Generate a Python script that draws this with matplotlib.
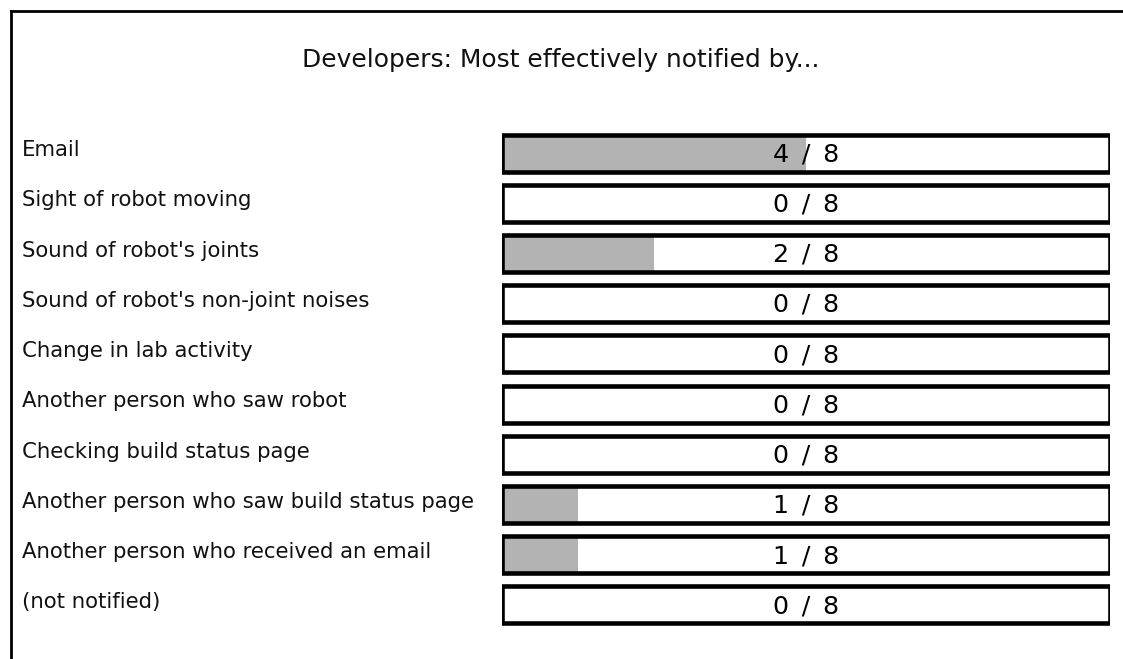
import matplotlib
matplotlib.use('Agg')
import matplotlib.pyplot as plt
import matplotlib.transforms as mtransforms
from matplotlib.lines import Line2D

# survey answers
categories = ["Email",
              "Sight of robot moving",
              "Sound of robot's joints",
              "Sound of robot's non-joint noises",
              "Change in lab activity",
              "Another person who saw robot",
              "Checking build status page",
              "Another person who saw build status page",
              "Another person who received an email",
              "(not notified)"]
counts = [4, 0, 2, 0, 0, 0, 0, 1, 1, 0]
total = 8
title = "Developers: Most effectively notified by..."

plt.rcParams['font.family'] = ['DejaVu Sans']

fig = plt.figure(figsize=(11.23, 6.59), dpi=100)
ax = fig.add_axes([502/1123, 1 - 630.1/659, 608/1123, 502.2/659])

y = list(range(len(categories)))
# grey fill, then the black outline on top
ax.barh(y, counts, height=0.737, left=0, color='#b3b3b3', linewidth=0)
ax.barh(y, [total]*len(y), height=0.737, left=0, facecolor='none',
        edgecolor='black', linewidth=3.3)

# "n / 8" in the middle of each bar (en spaces to get the wide look)
for i, c in enumerate(counts):
    ax.text(total/2, i + 0.165, "%d\u2002/\u2002%d" % (c, total), ha='center',
            va='baseline', fontsize=18.3, color='black')

# labels on the left, in figure x / data y
trans = mtransforms.blended_transform_factory(fig.transFigure, ax.transData)
for i, name in enumerate(categories):
    ax.text(22/1123, i + 0.064, name, transform=trans, ha='left', va='baseline',
            fontsize=15.3, color='#111111')

ax.set_xlim(0, total)
ax.set_ylim(len(categories) - 0.5, -0.5)
ax.axis('off')

fig.text(561/1123, 1 - 66.7/659, title, ha='center', va='baseline', fontsize=17.9,
         color='#111111')

# frame round the figure (only left and top are visible)
fig.add_artist(Line2D([10.7/1123, 10.7/1123], [0, 1 - 11/659], color='black', linewidth=2))
fig.add_artist(Line2D([10.7/1123, 1], [1 - 11/659, 1 - 11/659], color='black', linewidth=2))

plt.savefig('out.png', dpi=100)
plt.close()
